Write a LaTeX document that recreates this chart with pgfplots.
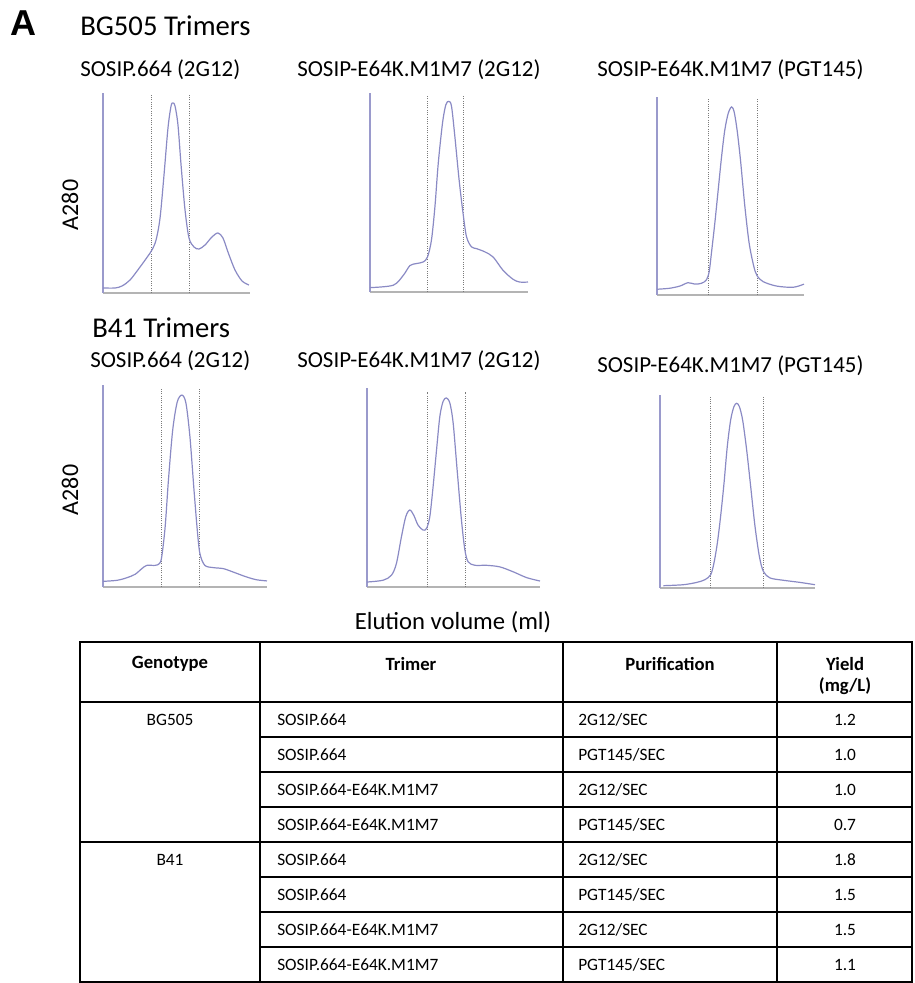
\documentclass[border=0pt]{standalone}
\usepackage{pgfplots}
\pgfplotsset{compat=1.18}
\usepackage{fontspec}
\setmainfont{Carlito}
\newfontfamily\arialfont{Liberation Sans}
\definecolor{curve}{HTML}{8A8AC4}
\definecolor{yaxis}{HTML}{9A9ACC}
\definecolor{xaxis}{HTML}{B4B4B4}
\definecolor{dots}{HTML}{7A7A7A}
\pgfplotsset{
  sec/.style={
    scale only axis, xmin=0, xmax=100, ymin=0, ymax=100,
    axis x line=bottom, axis y line=left, axis line style={-},
    x axis line style={xaxis, line width=0.8pt},
    y axis line style={yaxis, line width=0.8pt},
    xtick=\empty, ytick={21,42,63,84}, yticklabels={},
    major tick length=2pt, tick style={yaxis!40},
    clip=false
  },
  cv/.style={curve, line width=0.9pt, smooth, tension=0.5},
  dl/.style={dots, densely dotted, line width=0.7pt}
}
\begin{document}
\begin{tikzpicture}
\path[use as bounding box] (0,0) rectangle (686.25pt,737.25pt);

% ---------- BG505 row ----------
\begin{axis}[sec, at={(77.25pt,517.5pt)}, anchor=south west, width=110.25pt, height=150pt]
\addplot[dl] coordinates {(33.3,0) (33.3,99)};
\addplot[dl] coordinates {(58.5,0) (58.5,99)};
\addplot[cv] coordinates {(0,2.5) (8.2,2.5) (12.9,3.5) (18.4,6.5) (25.2,13) (30.6,18.5) (33.3,21.5) (36.1,26.5) (38.8,37.5) (41.5,59) (44.2,82.5) (46.3,93.5) (47.6,95) (49.0,93.5) (51.0,84) (53.1,64) (55.8,41.5) (58.5,27.5) (61.9,23) (65.3,22) (69.4,24) (74.1,28) (78.2,30) (81.6,27.5) (85.0,20.5) (89.8,11.5) (94.6,6) (99.3,4)};
\end{axis}

\begin{axis}[sec, at={(277.5pt,518.25pt)}, anchor=south west, width=118.5pt, height=149.25pt]
\addplot[dl] coordinates {(36.4,0) (36.4,99)};
\addplot[dl] coordinates {(59.4,0) (59.4,99)};
\addplot[cv] coordinates {(0,2.2) (14.7,3.4) (21.1,8.4) (25.3,13.3) (29.5,14.3) (33.7,15.1) (36.4,17.6) (38.9,26.1) (41.1,42.9) (43.2,64.7) (45.9,84.9) (48.0,94.1) (49.9,95.8) (51.6,93.3) (53.7,78.2) (56.4,56.3) (58.9,39.5) (61.1,27.7) (64.2,22.7) (67.4,21.8) (72.6,20.2) (77.9,17.6) (84.2,10.9) (90.5,6.4) (94.7,5.0) (100,5.0)};
\end{axis}

\begin{axis}[sec, at={(492.75pt,516pt)}, anchor=south west, width=110.25pt, height=148.5pt]
\addplot[dl] coordinates {(35.2,0) (35.2,99)};
\addplot[dl] coordinates {(68.2,0) (68.2,99)};
\addplot[cv] coordinates {(0,2.9) (8.6,3.4) (15.5,4.5) (21.1,6.2) (25.7,5.5) (30.2,5.9) (33.6,7.6) (35.5,11.8) (37.0,21.0) (39.3,36.1) (41.6,52.9) (43.9,69.7) (46.1,83.2) (48.4,91.6) (50.7,95.0) (52.5,92.4) (54.5,83.2) (56.8,68.1) (59.8,44.5) (62.7,26.1) (65.9,14.3) (68.2,9.6) (72.3,6.7) (81.4,4.5) (92.7,3.9) (100,5.5)};
\end{axis}

% ---------- B41 row ----------
\begin{axis}[sec, at={(77.25pt,297pt)}, anchor=south west, width=123pt, height=151.5pt]
\addplot[dl] coordinates {(35.4,0) (35.4,98)};
\addplot[dl] coordinates {(58.7,0) (58.7,98)};
\addplot[cv] coordinates {(0,2.8) (8.5,3.3) (14.6,4.6) (19.6,6.3) (23.7,9.1) (26.7,10.7) (31.8,10.7) (34.4,11.6) (35.8,14.9) (37.9,29.8) (39.9,52.9) (42.5,77.7) (45.3,91.7) (48.2,95.0) (50.6,90.9) (53.0,74.4) (55.5,47.9) (57.5,28.1) (59.1,16.5) (62.1,10.7) (67.2,9.6) (73.3,9.1) (79.4,7.4) (87.4,5.0) (93.5,3.6) (100,3.0)};
\end{axis}

\begin{axis}[sec, at={(275.25pt,297pt)}, anchor=south west, width=129.75pt, height=149.25pt]
\addplot[dl] coordinates {(34.9,0) (34.9,98)};
\addplot[dl] coordinates {(57.1,0) (57.1,98)};
\addplot[cv] coordinates {(0,2.5) (9.3,3.4) (14.1,5.9) (17.0,11.8) (19.9,25.2) (22.4,35.3) (24.7,38.7) (27.0,36.1) (29.5,31.1) (32.4,28.6) (34.4,29.4) (36.3,35.3) (38.2,50.4) (40.2,68.9) (42.1,85.7) (44.0,93.3) (45.9,95.0) (47.9,92.4) (49.8,82.4) (52.1,58.8) (54.6,33.6) (56.6,18.5) (58.5,12.6) (62.4,10.9) (69.1,10.9) (76.8,10.1) (84.6,7.6) (92.3,4.7) (100,3.0)};
\end{axis}

\begin{axis}[sec, at={(495pt,296.25pt)}, anchor=south west, width=116.25pt, height=144.75pt]
\addplot[dl] coordinates {(32.7,0) (32.7,99)};
\addplot[dl] coordinates {(66.7,0) (66.7,99)};
\addplot[cv] coordinates {(2.2,1.2) (15.1,1.7) (23.7,2.9) (29.0,4.3) (32.7,6.9) (34.8,12.9) (37.0,23.3) (39.1,37.1) (41.3,54.3) (43.4,73.3) (45.6,87.1) (47.7,94.0) (49.5,95.7) (51.2,94.0) (53.3,87.1) (55.9,71.6) (58.5,52.6) (61.3,31.9) (64.1,16.4) (66.7,8.6) (71.0,5.2) (79.6,4.0) (90.3,2.9) (100,1.7)};
\end{axis}

% ---------- texts and table (pixel coordinates) ----------
\begin{scope}[x=0.75pt, y=-0.75pt, yshift=737.25pt]
\node[anchor=base west, inner sep=0pt, font=\arialfont\bfseries\fontsize{27}{30}\selectfont] at (10,36) {A};
\node[anchor=base west, inner sep=0pt, font=\fontsize{21.5}{24}\selectfont] at (80,36) {BG505 Trimers};
\node[anchor=base west, inner sep=0pt, font=\fontsize{17.2}{20}\selectfont] at (80,77) {SOSIP.664 (2G12)};
\node[anchor=base west, inner sep=0pt, font=\fontsize{17.2}{20}\selectfont] at (297,77) {SOSIP-E64K.M1M7 (2G12)};
\node[anchor=base west, inner sep=0pt, font=\fontsize{17.2}{20}\selectfont] at (597,77) {SOSIP-E64K.M1M7 (PGT145)};
\node[anchor=base west, inner sep=0pt, font=\fontsize{21.5}{24}\selectfont] at (92,338) {B41 Trimers};
\node[anchor=base west, inner sep=0pt, font=\fontsize{17.2}{20}\selectfont] at (90,368) {SOSIP.664 (2G12)};
\node[anchor=base west, inner sep=0pt, font=\fontsize{17.2}{20}\selectfont] at (297,368) {SOSIP-E64K.M1M7 (2G12)};
\node[anchor=base west, inner sep=0pt, font=\fontsize{17.2}{20}\selectfont] at (597,373) {SOSIP-E64K.M1M7 (PGT145)};
\node[rotate=90, inner sep=0pt, font=\fontsize{18}{20}\selectfont] at (70,205) {A280};
\node[rotate=90, inner sep=0pt, font=\fontsize{18}{20}\selectfont] at (70,490) {A280};
\node[anchor=base, inner sep=0pt, font=\fontsize{18.5}{20}\selectfont] at (453,630) {Elution volume (ml)};

% table lines
\draw[line width=1.6pt] (80,642) rectangle (912,982);
\draw[line width=1.3pt] (260,642) -- (260,982);
\draw[line width=1.3pt] (563,642) -- (563,982);
\draw[line width=1.3pt] (777,642) -- (777,982);
\draw[line width=1.3pt] (80,702) -- (912,702);
\draw[line width=1.3pt] (80,842) -- (912,842);
\foreach \yy in {737,772,807,877,912,947} {\draw[line width=1.3pt] (260,\yy) -- (912,\yy);}

% header
\begin{scope}[every node/.style={inner sep=0pt, font=\bfseries\fontsize{14}{16}\selectfont}]
\node at (170,664) {Genotype};
\node at (411,664) {Trimer};
\node at (670,664) {Purification};
\node at (845,664) {Yield};
\node at (845,686) {(mg/L)};
\end{scope}

% body
\begin{scope}[every node/.style={inner sep=0pt, font=\fontsize{13}{15}\selectfont}]
\node at (170,720) {BG505};
\node at (170,860) {B41};
\foreach \r/\t/\p/\v in {1/SOSIP.664/2G12\slash SEC/1.2, 2/SOSIP.664/PGT145\slash SEC/1.0, 3/SOSIP.664-E64K.M1M7/2G12\slash SEC/1.0, 4/SOSIP.664-E64K.M1M7/PGT145\slash SEC/0.7, 5/SOSIP.664/2G12\slash SEC/1.8, 6/SOSIP.664/PGT145\slash SEC/1.5, 7/SOSIP.664-E64K.M1M7/2G12\slash SEC/1.5, 8/SOSIP.664-E64K.M1M7/PGT145\slash SEC/1.1} {
  \pgfmathsetmacro{\yc}{702+35*(\r-0.5)}
  \node[anchor=west] at (277,\yc) {\t};
  \node[anchor=west] at (578,\yc) {\p};
  \node at (845,\yc) {\v};
}
\end{scope}
\end{scope}
\end{tikzpicture}
\end{document}
